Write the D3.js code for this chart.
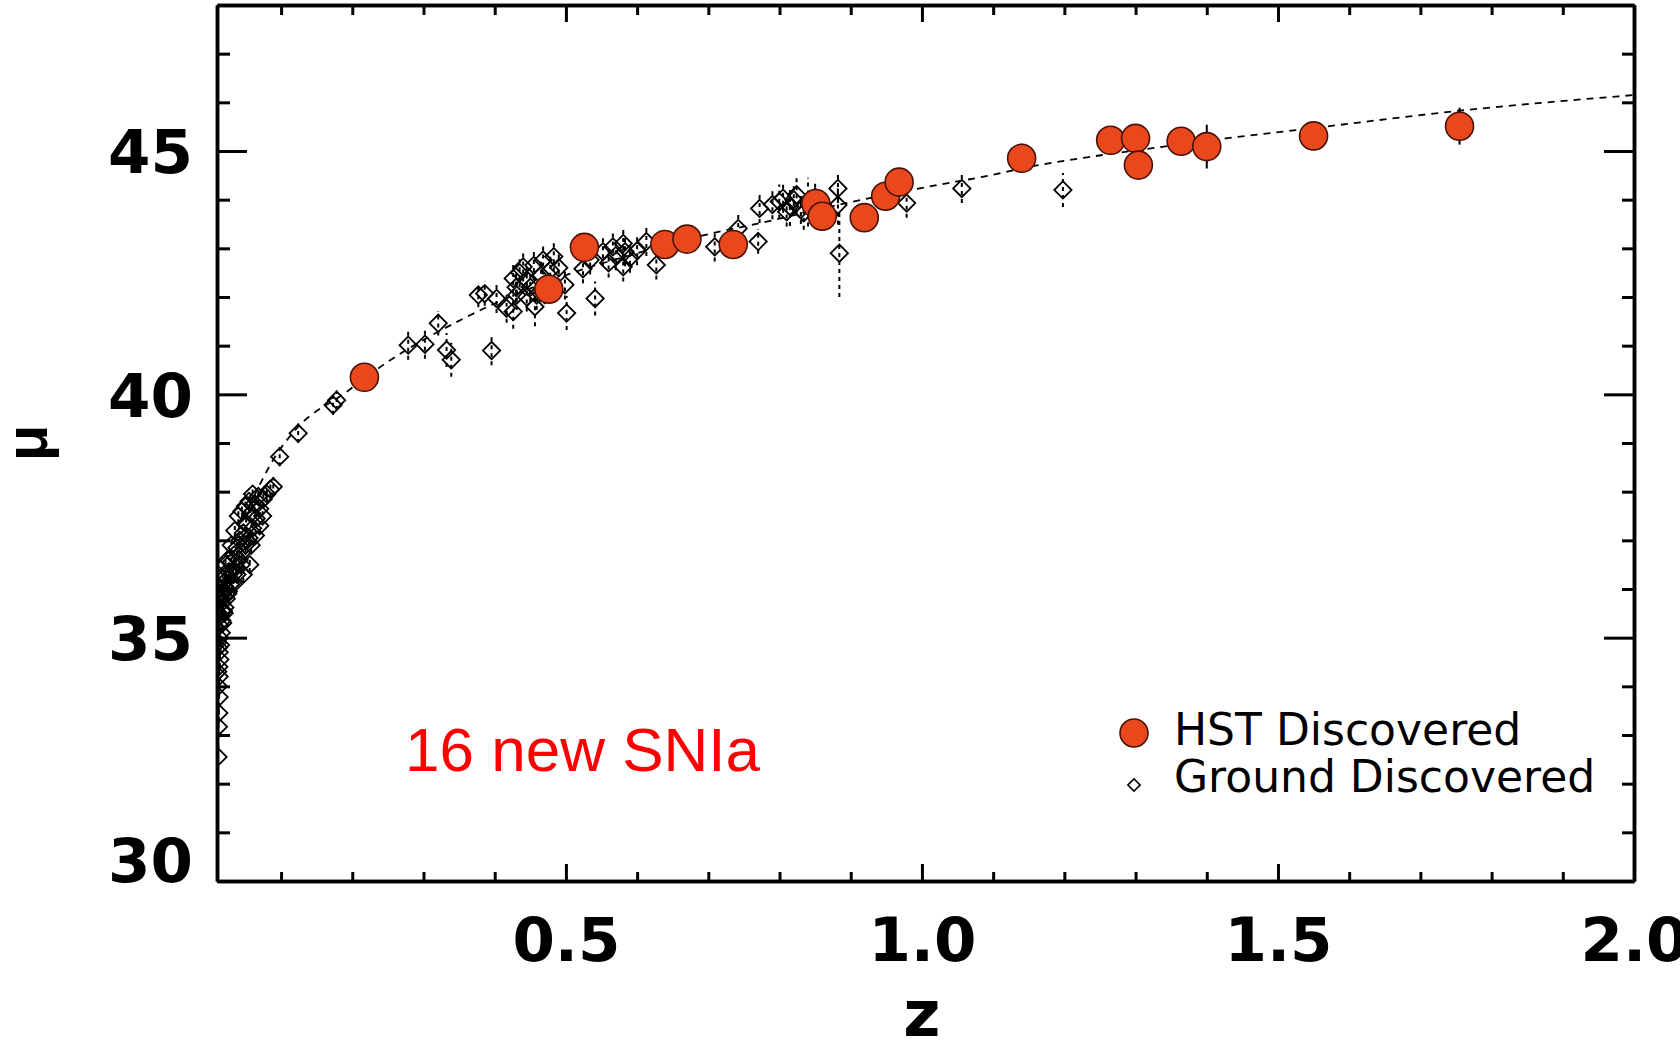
<!DOCTYPE html>
<html>
<head>
<meta charset="utf-8">
<script src="https://cdn.jsdelivr.net/npm/d3@7"></script>
<style>
  html, body { margin: 0; padding: 0; background: #fff; overflow: hidden; }
  svg { display: block; }
</style>
</head>
<body>
<svg id="chart" width="1680" height="1043"></svg>
<script>
// ---- Hubble diagram: distance modulus mu versus redshift z ----

// Supernovae found with HST (redshift, distance modulus, 1-sigma error)
const hstZ   = [0.217, 0.476, 0.526, 0.639, 0.670, 0.735, 0.851, 0.860, 0.919, 0.949,
                0.968, 1.140, 1.265, 1.300, 1.304, 1.364, 1.400, 1.550, 1.755];
const hstMu  = [40.35, 42.16, 43.02, 43.08, 43.19, 43.08, 43.92, 43.66, 43.63, 44.07,
                44.36, 44.85, 45.22, 45.26, 44.71, 45.20, 45.09, 45.31, 45.51];
const hstErr = [0.20, 0.25, 0.20, 0.20, 0.20, 0.20, 0.20, 0.30, 0.20, 0.20,
                0.25, 0.30, 0.20, 0.25, 0.20, 0.20, 0.45, 0.20, 0.38];

// Supernovae found from the ground
const groundZ = [
  0.0115, 0.012, 0.0125, 0.013, 0.012, 0.013, 0.0125, 0.014, 0.013, 0.015,
  0.0135, 0.016, 0.014, 0.017, 0.015, 0.019, 0.021, 0.016, 0.023, 0.018,
  0.026, 0.021, 0.029, 0.024, 0.033, 0.027, 0.037, 0.030, 0.041, 0.034,
  0.045, 0.038, 0.050, 0.042, 0.055, 0.047, 0.060, 0.051, 0.065, 0.057,
  0.070, 0.063, 0.075, 0.080, 0.068, 0.085, 0.089, 0.056, 0.047, 0.052,
  0.020, 0.025, 0.030, 0.035, 0.040, 0.045, 0.050, 0.055, 0.060, 0.015,
  0.018, 0.022, 0.012, 0.013, 0.011, 0.011, 0.012, 0.018, 0.020, 0.025,
  0.033, 0.038, 0.044, 0.058, 0.064, 0.070, 0.074,
  0.098, 0.124, 0.173, 0.178,
  0.2785, 0.302, 0.3207, 0.3324, 0.339, 0.3956, 0.377, 0.386, 0.4026, 0.4167,
  0.426, 0.431, 0.426, 0.440, 0.445, 0.4565, 0.459, 0.468, 0.478, 0.483,
  0.4986, 0.501, 0.524, 0.534, 0.541, 0.552, 0.566, 0.5805, 0.5805, 0.583,
  0.613, 0.627, 0.435, 0.450, 0.465, 0.470, 0.490, 0.455, 0.445, 0.430,
  0.570, 0.590, 0.600, 0.560,
  0.709, 0.742, 0.770, 0.772, 0.7996, 0.8146, 0.805, 0.824, 0.834, 0.840,
  0.790, 0.810, 0.820, 0.830, 0.845, 0.850, 0.860,
  0.882, 0.882, 0.884, 0.9785, 1.056, 1.198
];
const groundMu = [
  32.55, 33.17, 33.45, 33.78, 34.00, 34.20, 34.40, 34.55, 34.70, 34.85,
  35.00, 35.10, 35.25, 35.35, 35.45, 35.55, 35.62, 35.70, 35.80, 35.90,
  35.95, 36.05, 36.10, 36.20, 36.30, 36.35, 36.45, 36.55, 36.60, 36.70,
  36.75, 36.85, 36.90, 37.00, 37.05, 37.15, 37.25, 37.35, 37.45, 37.55,
  37.65, 37.75, 37.85, 37.95, 37.90, 38.05, 38.10, 36.50, 36.30, 37.00,
  36.30, 36.60, 36.90, 37.20, 37.50, 37.60, 37.70, 37.80, 37.95, 35.90,
  36.20, 36.50, 35.50, 35.80, 34.90, 34.30, 34.80, 35.30, 35.50, 35.90,
  36.10, 36.30, 36.50, 36.90, 37.10, 37.30, 37.50,
  38.72, 39.20, 39.78, 39.88,
  41.01, 41.03, 41.46, 40.91, 40.71, 40.90, 42.04, 42.07, 41.97, 41.77,
  41.70, 42.04, 42.38, 42.62, 42.35, 41.80, 42.04, 42.76, 42.55, 42.83,
  42.25, 41.67, 42.58, 42.76, 41.97, 42.93, 43.03, 43.10, 42.62, 42.93,
  43.14, 42.66, 42.50, 42.20, 42.45, 42.15, 42.60, 42.65, 42.00, 42.20,
  42.85, 42.80, 42.95, 42.70,
  43.03, 43.41, 43.14, 43.82, 43.96, 43.86, 44.03, 44.10, 43.73, 43.95,
  43.90, 43.75, 44.00, 43.80, 43.85, 44.05, 43.90,
  44.23, 43.89, 42.90, 43.93, 44.23, 44.20
];
const groundErr = [
  0.20, 0.20, 0.20, 0.20, 0.15, 0.15, 0.15, 0.15, 0.15, 0.15,
  0.15, 0.15, 0.15, 0.15, 0.15, 0.15, 0.15, 0.15, 0.15, 0.15,
  0.15, 0.15, 0.15, 0.15, 0.15, 0.15, 0.15, 0.15, 0.15, 0.15,
  0.15, 0.15, 0.15, 0.15, 0.15, 0.15, 0.15, 0.15, 0.15, 0.15,
  0.15, 0.15, 0.15, 0.15, 0.15, 0.15, 0.20, 0.15, 0.15, 0.15,
  0.15, 0.15, 0.15, 0.15, 0.15, 0.15, 0.15, 0.15, 0.15, 0.15,
  0.15, 0.15, 0.15, 0.15, 0.20, 0.20, 0.15, 0.15, 0.15, 0.15,
  0.15, 0.15, 0.15, 0.15, 0.15, 0.15, 0.15,
  0.20, 0.20, 0.20, 0.20,
  0.30, 0.30, 0.25, 0.35, 0.35, 0.30, 0.25, 0.25, 0.30, 0.30,
  0.35, 0.30, 0.30, 0.30, 0.30, 0.40, 0.30, 0.30, 0.30, 0.30,
  0.30, 0.35, 0.30, 0.30, 0.35, 0.30, 0.30, 0.30, 0.30, 0.30,
  0.30, 0.30, 0.30, 0.30, 0.30, 0.30, 0.30, 0.30, 0.30, 0.30,
  0.30, 0.30, 0.30, 0.30,
  0.30, 0.30, 0.25, 0.30, 0.35, 0.40, 0.30, 0.40, 0.35, 0.50,
  0.30, 0.30, 0.30, 0.30, 0.30, 0.30, 0.30,
  0.30, 0.40, 0.90, 0.30, 0.30, 0.35
];

// Best-fit cosmology curve, sampled along the drawn line
const fitZ  = [0.0105, 0.011, 0.012, 0.013, 0.014, 0.016, 0.020, 0.028, 0.042, 0.060,
               0.093, 0.122, 0.192, 0.243, 0.355, 0.500, 0.600, 0.703, 0.773, 0.900,
               1.021, 1.096, 1.153, 1.232, 1.324, 1.427, 1.549, 1.750, 2.000];
const fitMu = [30.00, 31.60, 33.00, 34.10, 34.60, 35.20, 35.90, 36.60, 37.30, 37.85,
               38.75, 39.30, 40.05, 40.60, 41.55, 42.45, 42.90, 43.30, 43.52, 43.95,
               44.30, 44.50, 44.68, 44.87, 45.06, 45.26, 45.47, 45.82, 46.15];

// Axis ticks
const xMajorTicks = [0.5, 1.0, 1.5, 2.0];
const xTickLabels = ["0.5", "1.0", "1.5", "2.0"];
const xMinorTicks = [0.1, 0.2, 0.3, 0.4, 0.6, 0.7, 0.8, 0.9, 1.1, 1.2, 1.3, 1.4, 1.6, 1.7, 1.8, 1.9];
const yMajorTicks = [30, 35, 40, 45];
const yTickLabels = ["30", "35", "40", "45"];
const yMinorTicks = [31, 32, 33, 34, 36, 37, 38, 39, 41, 42, 43, 44, 46, 47];

const legendLabels = ["HST Discovered", "Ground Discovered"];
const noteText = "16 new SNIa";

// ---- layout ----
const svg = d3.select("#chart");
const plot = { left: 217, right: 1634, top: 5, bottom: 881 };

const x = d3.scaleLinear().domain([0.01, 2.0]).range([plot.left, plot.right]);
const y = d3.scaleLinear().domain([30, 48]).range([plot.bottom, plot.top]);

svg.append("defs").append("clipPath").attr("id", "plotClip")
  .append("rect")
  .attr("x", plot.left).attr("y", plot.top)
  .attr("width", plot.right - plot.left).attr("height", plot.bottom - plot.top);

const marks = svg.append("g").attr("clip-path", "url(#plotClip)");

// fit curve
const fitData = fitZ.map((z, i) => ({ z, mu: fitMu[i] }));
marks.append("path")
  .datum(fitData)
  .attr("fill", "none")
  .attr("stroke", "#000")
  .attr("stroke-width", 1.8)
  .attr("stroke-dasharray", "7,6")
  .attr("d", d3.line().x(d => x(d.z)).y(d => y(d.mu)).curve(d3.curveMonotoneX));

// ground-discovered points
const ground = groundZ.map((z, i) => ({ z, mu: groundMu[i], err: groundErr[i] }));
marks.append("g").selectAll("line").data(ground).join("line")
  .attr("x1", d => x(d.z)).attr("x2", d => x(d.z))
  .attr("y1", d => y(d.mu - d.err)).attr("y2", d => y(d.mu + d.err))
  .attr("stroke", "#000").attr("stroke-width", 2)
  .attr("stroke-dasharray", "4,4");

const diamond = d3.symbol().type(d3.symbolSquare).size(150);
marks.append("g").selectAll("path").data(ground).join("path")
  .attr("d", diamond)
  .attr("transform", d => `translate(${x(d.z)},${y(d.mu)}) rotate(45)`)
  .attr("fill", "none")
  .attr("stroke", "#000")
  .attr("stroke-width", 1.8);

// HST-discovered points
const hst = hstZ.map((z, i) => ({ z, mu: hstMu[i], err: hstErr[i] }));
marks.append("g").selectAll("line").data(hst).join("line")
  .attr("x1", d => x(d.z)).attr("x2", d => x(d.z))
  .attr("y1", d => y(d.mu - d.err)).attr("y2", d => y(d.mu + d.err))
  .attr("stroke", "#000").attr("stroke-width", 2);

marks.append("g").selectAll("circle").data(hst).join("circle")
  .attr("cx", d => x(d.z)).attr("cy", d => y(d.mu))
  .attr("r", 14)
  .attr("fill", "#e9481d")
  .attr("stroke", "#4a1206")
  .attr("stroke-width", 1.6);

// ---- axes (ticks pointing inward) ----
const labelFont = "'DejaVu Sans', 'Liberation Sans', sans-serif";

function styleAxis(g, width) {
  g.select(".domain").attr("stroke", "#000").attr("stroke-width", width);
  g.selectAll(".tick line").attr("stroke", "#000").attr("stroke-width", 3);
}

// bottom
svg.append("g").attr("transform", `translate(0,${plot.bottom})`)
  .call(d3.axisBottom(x).tickValues(xMinorTicks).tickSize(-9).tickSizeOuter(0).tickFormat(""))
  .call(g => styleAxis(g, 3.5));
const xAxisG = svg.append("g").attr("transform", `translate(0,${plot.bottom})`)
  .call(d3.axisBottom(x).tickValues(xMajorTicks).tickSize(-17).tickSizeOuter(0)
        .tickPadding(37).tickFormat((d, i) => xTickLabels[i]))
  .call(g => styleAxis(g, 3.5));
xAxisG.selectAll(".tick text")
  .attr("fill", "#000")
  .style("font-family", labelFont).style("font-weight", "bold").style("font-size", "61px");

// top
svg.append("g").attr("transform", `translate(0,${plot.top})`)
  .call(d3.axisTop(x).tickValues(xMinorTicks).tickSize(-10).tickSizeOuter(0).tickFormat(""))
  .call(g => styleAxis(g, 3.5));
svg.append("g").attr("transform", `translate(0,${plot.top})`)
  .call(d3.axisTop(x).tickValues(xMajorTicks).tickSize(-17).tickSizeOuter(0).tickFormat(""))
  .call(g => styleAxis(g, 3.5));

// left
svg.append("g").attr("transform", `translate(${plot.left},0)`)
  .call(d3.axisLeft(y).tickValues(yMinorTicks).tickSize(-13).tickSizeOuter(0).tickFormat(""))
  .call(g => styleAxis(g, 3.5));
const yAxisG = svg.append("g").attr("transform", `translate(${plot.left},0)`)
  .call(d3.axisLeft(y).tickValues(yMajorTicks).tickSize(-30).tickSizeOuter(0)
        .tickPadding(24).tickFormat((d, i) => yTickLabels[i]))
  .call(g => styleAxis(g, 3.5));
yAxisG.selectAll(".tick text")
  .attr("fill", "#000")
  .attr("dy", d => d === 30 ? "0.0em" : "0.36em")
  .style("font-family", labelFont).style("font-weight", "bold").style("font-size", "61px");

// right
svg.append("g").attr("transform", `translate(${plot.right},0)`)
  .call(d3.axisRight(y).tickValues(yMinorTicks).tickSize(-12).tickSizeOuter(0).tickFormat(""))
  .call(g => styleAxis(g, 3.5));
svg.append("g").attr("transform", `translate(${plot.right},0)`)
  .call(d3.axisRight(y).tickValues(yMajorTicks).tickSize(-30).tickSizeOuter(0).tickFormat(""))
  .call(g => styleAxis(g, 3.5));

// axis titles
svg.append("text")
  .attr("x", x(1.0))
  .attr("y", 1036)
  .attr("text-anchor", "middle")
  .style("font-family", labelFont).style("font-weight", "bold").style("font-size", "64px")
  .text("z");

svg.append("text")
  .attr("transform", "translate(47,443) rotate(-90)")
  .attr("text-anchor", "middle")
  .style("font-family", "'Liberation Sans', Arial, sans-serif").style("font-weight", "bold").style("font-size", "60px")
  .text("μ");

// annotation
svg.append("text")
  .attr("x", 405).attr("y", 771)
  .attr("fill", "#ff0000")
  .style("font-family", "'Liberation Sans', Arial, sans-serif").style("font-size", "62px")
  .text(noteText);

// legend
const legend = svg.append("g").attr("transform", "translate(1134,0)");
legend.append("circle")
  .attr("cx", 0).attr("cy", 733).attr("r", 14)
  .attr("fill", "#e9481d").attr("stroke", "#4a1206").attr("stroke-width", 1.6);
legend.append("path")
  .attr("d", d3.symbol().type(d3.symbolSquare).size(75))
  .attr("transform", "translate(0,785) rotate(45)")
  .attr("fill", "none").attr("stroke", "#000").attr("stroke-width", 1.6);
legend.selectAll("text.lab").data(legendLabels).join("text")
  .attr("class", "lab")
  .attr("x", 40)
  .attr("y", (d, i) => 745 + i * 47)
  .attr("fill", "#000")
  .style("font-family", "'DejaVu Sans', sans-serif").style("font-size", "44px")
  .text(d => d);
</script>
</body>
</html>
